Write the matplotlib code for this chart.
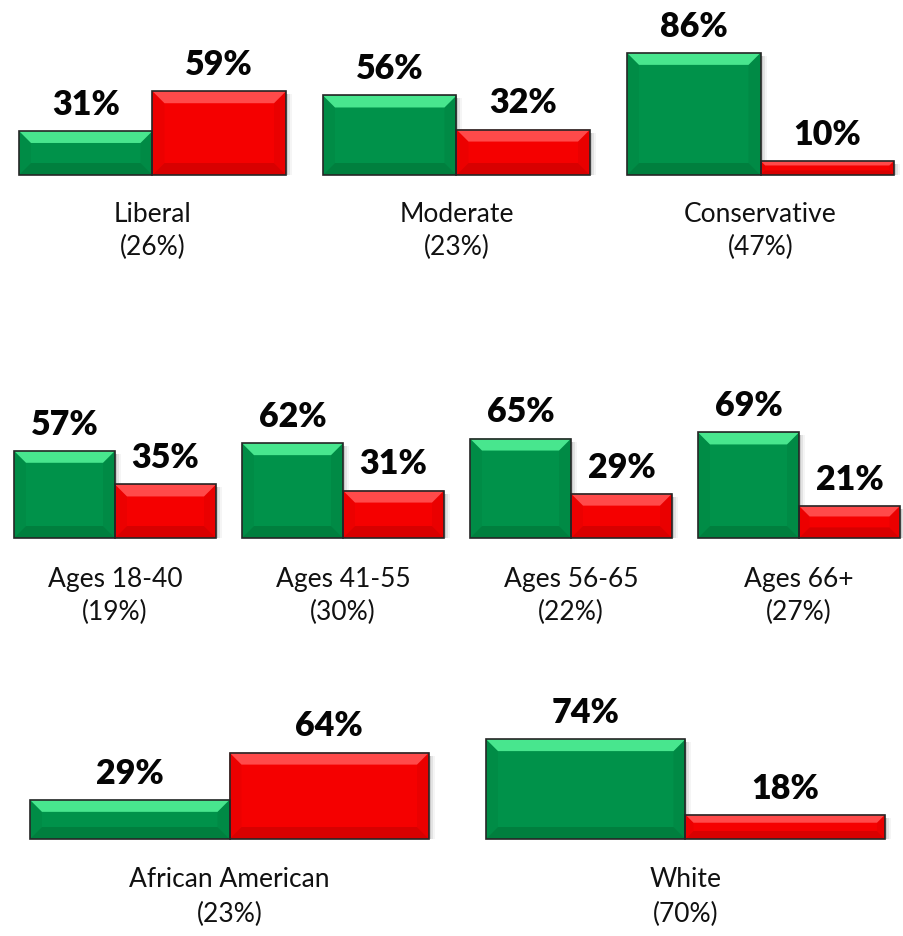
import matplotlib
matplotlib.use("Agg")
import matplotlib.pyplot as plt
from matplotlib.patches import Polygon, Rectangle

W, H = 904, 937
DPI = 100

# ---- data ----
row1_labels = ["Liberal", "Moderate", "Conservative"]
row1_shares = ["(26%)", "(23%)", "(47%)"]
row1_green = [31, 56, 86]
row1_red = [59, 32, 10]

row2_labels = ["Ages 18-40", "Ages 41-55", "Ages 56-65", "Ages 66+"]
row2_shares = ["(19%)", "(30%)", "(22%)", "(27%)"]
row2_green = [57, 62, 65, 69]
row2_red = [35, 31, 29, 21]

row3_labels = ["African American", "White"]
row3_shares = ["(23%)", "(70%)"]
row3_green = [29, 74]
row3_red = [64, 18]

# ---- layout (pixels) ----
rows = [
    dict(labels=row1_labels, shares=row1_shares, green=row1_green, red=row1_red,
         lefts=[19, 323, 627], bw=133.5, base=176, scale=142, ly=215, sy=247),
    dict(labels=row2_labels, shares=row2_shares, green=row2_green, red=row2_red,
         lefts=[14, 242, 470, 698], bw=101, base=539, scale=153, ly=580, sy=612),
    dict(labels=row3_labels, shares=row3_shares, green=row3_green, red=row3_red,
         lefts=[30, 486], bw=199.5, base=840, scale=135, ly=880, sy=914),
]

GREEN = dict(main="#00924a", top="#48e68e", bottom="#007f3e", left="#008c46", right="#008a45")
RED = dict(main="#f50000", top="#ff4a4a", bottom="#d80000", left="#ec0000", right="#ea0000")

FONT = ["Lato", "DejaVu Sans"]
BEVEL = 12  # px

fig = plt.figure(figsize=(W / DPI, H / DPI), dpi=DPI)
fig.patch.set_facecolor("white")


def bevel_bar(ax, patch, cols, px_x, px_y):
    x0, y0 = patch.get_x(), patch.get_y()
    x1, y1 = x0 + patch.get_width(), y0 + patch.get_height()
    hgt = y1 - y0
    hgt_px = hgt / px_y
    bpx = min(BEVEL, hgt_px * 0.33)
    b_y = bpx * px_y
    b_x = bpx * px_x
    # soft shadow on the right
    for k, a in [(2, 0.25), (4, 0.15), (6, 0.08)]:
        ax.add_patch(Rectangle((x1, y0), k * px_x, hgt - 3 * px_y,
                               facecolor="#808080", alpha=a, edgecolor="none",
                               zorder=1, clip_on=False))
    ix0, ix1, iy0, iy1 = x0 + b_x, x1 - b_x, y0 + b_y, y1 - b_y
    polys = [
        ([(x0, y0), (ix0, iy0), (ix0, iy1), (x0, y1)], cols["left"]),
        ([(x1, y0), (ix1, iy0), (ix1, iy1), (x1, y1)], cols["right"]),
        ([(x0, y0), (x1, y0), (ix1, iy0), (ix0, iy0)], cols["bottom"]),
        ([(x0, y1), (x1, y1), (ix1, iy1), (ix0, iy1)], cols["top"]),
    ]
    for pts, c in polys:
        ax.add_patch(Polygon(pts, closed=True, facecolor=c, edgecolor="none",
                             zorder=3, clip_on=False))
    ax.add_patch(Rectangle((x0, y0), x1 - x0, hgt, facecolor="none",
                           edgecolor="#262626", linewidth=1.2, zorder=4, clip_on=False))


for r in rows:
    for i, left in enumerate(r["lefts"]):
        width_px = 2 * r["bw"]
        ax = fig.add_axes([left / W, (H - r["base"]) / H, width_px / W, r["scale"] / H])
        ax.set_xlim(-0.5, 1.5)
        ax.set_ylim(0, 100)
        ax.axis("off")
        vals = [r["green"][i], r["red"][i]]
        bars = ax.bar([0, 1], vals, width=1.0, color=[GREEN["main"], RED["main"]],
                      edgecolor="none", zorder=2)
        px_x = 2.0 / width_px
        px_y = 100.0 / r["scale"]
        for p, cols in zip(bars.patches, [GREEN, RED]):
            bevel_bar(ax, p, cols, px_x, px_y)
        for xi, v in zip([0, 1], vals):
            ax.annotate(f"{v}%", (xi, v), xytext=(0, 8), textcoords="offset points",
                        ha="center", va="bottom", fontsize=24.5, fontweight="heavy",
                        family=FONT, color="#050505", annotation_clip=False)
        cx = (left + r["bw"]) / W
        fig.text(cx, 1 - r["ly"] / H, r["labels"][i], ha="center", va="center",
                 fontsize=19, family=FONT, color="#111111")
        fig.text(cx, 1 - r["sy"] / H, r["shares"][i], ha="center", va="center",
                 fontsize=19, family=FONT, color="#111111")

fig.savefig("out.png", dpi=DPI, facecolor="white")
